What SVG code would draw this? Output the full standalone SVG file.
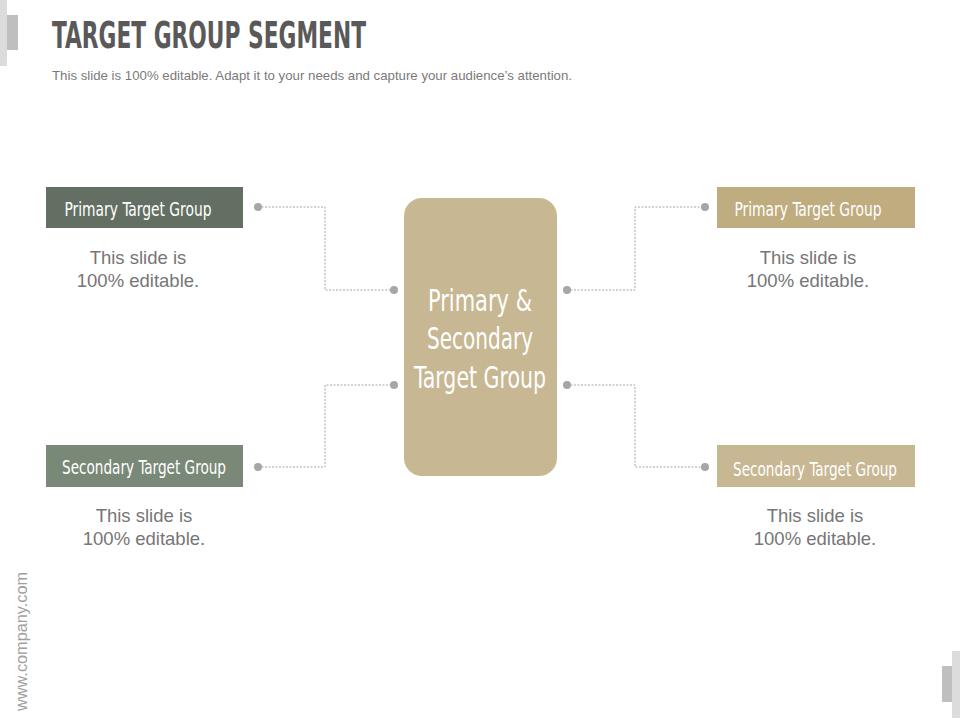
<svg xmlns="http://www.w3.org/2000/svg" width="960" height="720" viewBox="0 0 960 720">
<style>
.cond{font-family:"Liberation Sans Narrow","DejaVu Sans Condensed","Liberation Sans",sans-serif;font-stretch:condensed;}
.lbl{fill:#ffffff;font-size:20px;text-anchor:middle;}
.big{font-size:31px;}
.body{font-family:"Liberation Sans",Arial,sans-serif;font-size:18.5px;fill:#767676;text-anchor:middle;}
.conn{fill:none;stroke:#a6a6a6;stroke-width:1;stroke-dasharray:2 1.5;}
.dot{fill:#a6a6a6;}
</style>
<rect width="960" height="720" fill="#ffffff"/>
<g id="decor">
<rect x="0" y="0" width="7" height="66" fill="#dcdcdc"/>
<rect x="7" y="15" width="11" height="35" fill="#bfbfbf"/>
<rect x="952" y="651" width="8" height="67" fill="#dcdcdc"/>
<rect x="942" y="666" width="10" height="36" fill="#bfbfbf"/>
<text x="27" y="711" transform="rotate(-90 27 711)" font-family="Liberation Sans,Arial,sans-serif" font-size="16" fill="#a0a0a0" textLength="139" lengthAdjust="spacingAndGlyphs">www.company.com</text>
</g>
<g id="title">
<text x="52" y="48" class="cond" font-weight="bold" font-size="37" fill="#595959" textLength="314" lengthAdjust="spacingAndGlyphs">TARGET GROUP SEGMENT</text>
<text x="52" y="80" font-family="Liberation Sans,Arial,sans-serif" font-size="13.2" fill="#7a7a7a" textLength="520" lengthAdjust="spacingAndGlyphs">This slide is 100% editable. Adapt it to your needs and capture your audience’s attention.</text>
</g>
<g id="connectors">
<polyline class="conn" points="258,207 325,207 325,290 394,290"/>
<polyline class="conn" points="258,467 325,467 325,385 394,385"/>
<polyline class="conn" points="567,290 635,290 635,207 705,207"/>
<polyline class="conn" points="567,385 635,385 635,467 705,467"/>
<circle class="dot" cx="258" cy="207" r="4"/>
<circle class="dot" cx="394" cy="290" r="4"/>
<circle class="dot" cx="258" cy="467" r="4"/>
<circle class="dot" cx="394" cy="385" r="4"/>
<circle class="dot" cx="567" cy="290" r="4"/>
<circle class="dot" cx="705" cy="207" r="4"/>
<circle class="dot" cx="567" cy="385" r="4"/>
<circle class="dot" cx="705" cy="467" r="4"/>
</g>
<g id="center">
<rect x="404" y="198" width="153" height="278" rx="18" fill="#c8b793"/>
<text class="cond lbl big" x="480" y="311" textLength="104" lengthAdjust="spacingAndGlyphs">Primary &amp;</text>
<text class="cond lbl big" x="480" y="349" textLength="106" lengthAdjust="spacingAndGlyphs">Secondary</text>
<text class="cond lbl big" x="480" y="388" textLength="132" lengthAdjust="spacingAndGlyphs">Target Group</text>
</g>
<g id="left-primary">
<rect x="46" y="187" width="197" height="41" fill="#646f63"/>
<text class="cond lbl" x="138" y="216" textLength="147" lengthAdjust="spacingAndGlyphs">Primary Target Group</text>
<text class="body" x="138" y="264">This slide is</text>
<text class="body" x="138" y="287">100% editable.</text>
</g>
<g id="left-secondary">
<rect x="46" y="445" width="197" height="42" fill="#7a8878"/>
<text class="cond lbl" x="144" y="474" textLength="164" lengthAdjust="spacingAndGlyphs">Secondary Target Group</text>
<text class="body" x="144" y="522">This slide is</text>
<text class="body" x="144" y="545">100% editable.</text>
</g>
<g id="right-primary">
<rect x="717" y="187" width="198" height="41" fill="#bfac7f"/>
<text class="cond lbl" x="808" y="216" textLength="147" lengthAdjust="spacingAndGlyphs">Primary Target Group</text>
<text class="body" x="808" y="264">This slide is</text>
<text class="body" x="808" y="287">100% editable.</text>
</g>
<g id="right-secondary">
<rect x="717" y="445" width="198" height="42" fill="#c8b793"/>
<text class="cond lbl" x="815" y="476" textLength="164" lengthAdjust="spacingAndGlyphs">Secondary Target Group</text>
<text class="body" x="815" y="522">This slide is</text>
<text class="body" x="815" y="545">100% editable.</text>
</g>
</svg>
